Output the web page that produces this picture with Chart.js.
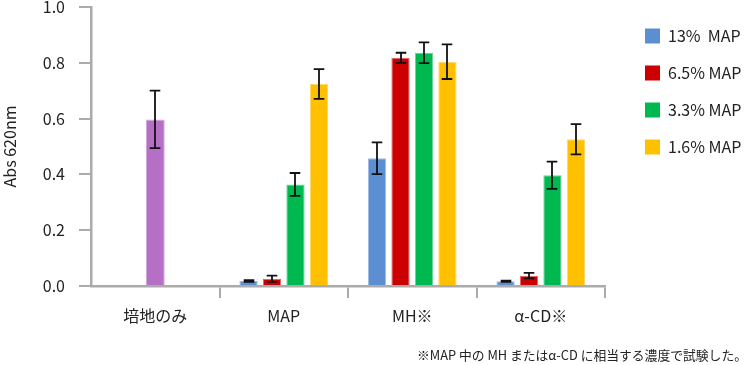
<!DOCTYPE html>
<html>
<head>
<meta charset="utf-8">
<script src="https://cdn.jsdelivr.net/npm/chart.js@4/dist/chart.umd.min.js"></script>
<style>
  html, body { margin: 0; padding: 0; background: #fff; overflow: hidden; }
  #wrap { position: relative; width: 745px; height: 365px; }
  #note { position: absolute; right: -2px; top: 345px; font-family: "Noto Sans CJK JP", sans-serif; font-size: 12.8px; color: #222; white-space: nowrap; }
</style>
</head>
<body>
<div id="wrap">
  <canvas id="c" width="745" height="365"></canvas>
  <div id="note">※MAP 中の MH またはα-CD に相当する濃度で試験した。</div>
</div>
<script>
const categories = ["培地のみ", "MAP", "MH※", "α-CD※"];
const seriesNames = ["13%  MAP", "6.5% MAP", "3.3% MAP", "1.6% MAP"];
const mediumOnly = [0.597, null, null, null];
const mediumOnlyErr = [0.103, null, null, null];
const map13 = [null, 0.018, 0.458, 0.017];
const map13Err = [null, 0.003, 0.057, 0.002];
const map65 = [null, 0.026, 0.818, 0.037];
const map65Err = [null, 0.011, 0.018, 0.010];
const map33 = [null, 0.364, 0.836, 0.397];
const map33Err = [null, 0.041, 0.037, 0.049];
const map16 = [null, 0.724, 0.804, 0.526];
const map16Err = [null, 0.053, 0.062, 0.054];
const yTicks = [0, 0.2, 0.4, 0.6, 0.8, 1.0];

const FONT = '"Noto Sans CJK JP", "Noto Sans", sans-serif';
const AXIS = '#ababab';

const errorBars = {
  id: 'errorBars',
  afterDatasetsDraw(chart) {
    const ctx = chart.ctx;
    const y = chart.scales.y;
    ctx.save();
    ctx.strokeStyle = '#111';
    ctx.lineWidth = 1.8;
    chart.data.datasets.forEach((ds, di) => {
      const meta = chart.getDatasetMeta(di);
      if (!ds.errors) return;
      ds.data.forEach((v, i) => {
        const e = ds.errors[i];
        if (v == null || e == null) return;
        const el = meta.data[i];
        const x = Math.round(el.x);
        const yt = y.getPixelForValue(v + e);
        const yb = y.getPixelForValue(v - e);
        const cap = 5.3;
        ctx.beginPath();
        ctx.moveTo(x, yt); ctx.lineTo(x, yb);
        ctx.moveTo(x - cap, yt); ctx.lineTo(x + cap, yt);
        ctx.moveTo(x - cap, yb); ctx.lineTo(x + cap, yb);
        ctx.stroke();
      });
    });
    ctx.restore();
  }
};

const colors = ['#5B8FD2', '#CC0000', '#00B850', '#FFC000'];
const borders = ['#9dbbe4', '#e06666', '#66d496', '#ffd966'];
const values = [map13, map65, map33, map16];
const errs = [map13Err, map65Err, map33Err, map16Err];

const datasets = seriesNames.map((n, k) => ({
  label: n,
  data: values[k],
  errors: errs[k],
  backgroundColor: colors[k],
  borderColor: borders[k],
  borderWidth: 1,
  categoryPercentage: 0.73,
  barPercentage: 0.78
}));
datasets.push({
  label: '培地のみ',
  data: mediumOnly,
  errors: mediumOnlyErr,
  backgroundColor: '#B570C6',
  borderColor: '#d3a6dd',
  borderWidth: 1,
  grouped: false,
  maxBarThickness: 19
});

new Chart(document.getElementById('c'), {
  type: 'bar',
  data: { labels: categories, datasets },
  plugins: [errorBars],
  options: {
    responsive: false,
    animation: false,
    layout: { padding: { top: 7, bottom: 39, left: 0, right: 0 } },
    plugins: {
      tooltip: { enabled: false },
      legend: {
        position: 'right',
        align: 'start',
        maxWidth: 121,
        labels: {
          filter: (item) => item.datasetIndex < 4,
          boxWidth: 15,
          boxHeight: 15,
          padding: 21,
          color: '#222',
          font: { family: FONT, size: 16 },
          generateLabels(chart) {
            return chart.data.datasets.map((d, i) => ({
              text: d.label, fillStyle: d.backgroundColor, strokeStyle: d.backgroundColor,
              lineWidth: 0, datasetIndex: i, hidden: false, fontColor: '#222'
            }));
          }
        }
      }
    },
    scales: {
      x: {
        offset: true,
        afterFit(s) { s.height = 40; },
        grid: {
          offset: true,
          drawOnChartArea: false,
          drawTicks: true,
          tickLength: 12,
          lineWidth: 2,
          color: (c) => (c.index === 0 || c.index === 4) ? 'rgba(0,0,0,0)' : AXIS
        },
        border: { color: AXIS, width: 2.5 },
        ticks: { color: '#222', padding: 8, font: { family: FONT, size: 16 } }
      },
      y: {
        min: 0, max: 1.0,
        afterBuildTicks(scale) { scale.ticks = yTicks.map(v => ({ value: v })); },
        afterFit(s) { s.width = 91; s.paddingTop = 0; s.paddingBottom = 0; },
        grid: { drawOnChartArea: false, drawTicks: true, tickLength: 12, lineWidth: 2, color: AXIS },
        border: { color: AXIS, width: 2.5 },
        ticks: { color: '#222', padding: 14, font: { family: FONT, size: 16 }, callback: (v) => Number(v).toFixed(1) },
        title: { display: true, text: 'Abs 620nm', color: '#222', font: { family: FONT, size: 16 }, padding: { top: 0, bottom: 6 } }
      },
      gap: {
        type: 'linear',
        position: 'right',
        display: true,
        afterFit(s) { s.width = 19; },
        grid: { display: false, drawTicks: false },
        border: { display: false },
        ticks: { display: false }
      }
    }
  }
});
</script>
</body>
</html>
